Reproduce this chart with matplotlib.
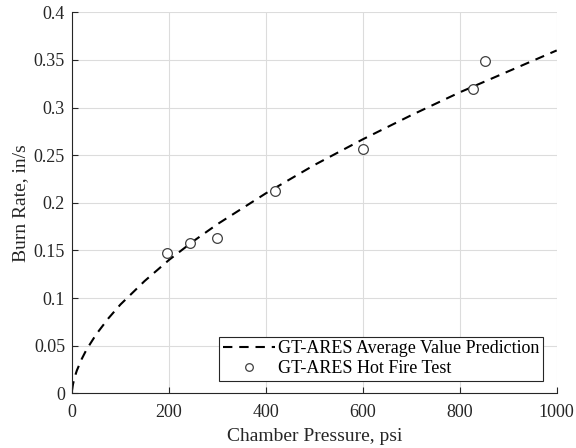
import matplotlib
matplotlib.use("Agg")
import matplotlib.pyplot as plt

# Prediction curve
pred_p = [0, 2, 5, 10, 20, 30, 50, 75, 100, 150, 200, 250, 300, 400, 500, 600, 700, 800, 900, 1000]
pred_r = [0.003, 0.0094, 0.016, 0.024, 0.036, 0.046, 0.062, 0.0787, 0.0933, 0.118, 0.140, 0.1596,
          0.1776, 0.210, 0.2397, 0.2667, 0.292, 0.316, 0.338, 0.360]

# Hot fire test points
test_p = [195, 243, 299, 418, 600, 828, 852]
test_r = [0.147, 0.158, 0.163, 0.212, 0.256, 0.319, 0.349]

xticks = [0, 200, 400, 600, 800, 1000]
yticks = [0, 0.05, 0.1, 0.15, 0.2, 0.25, 0.3, 0.35, 0.4]
ytick_labels = ["0", "0.05", "0.1", "0.15", "0.2", "0.25", "0.3", "0.35", "0.4"]

plt.rcParams['font.family'] = ['Liberation Serif', 'DejaVu Serif']

fig = plt.figure(figsize=(5.76, 4.48), dpi=100)
ax = fig.add_axes([0.125, 0.122, 0.8415, 0.8505])

ax.plot(pred_p, pred_r, color='black', linestyle=(0, (4.5, 3.3)), linewidth=1.5,
        label='GT-ARES Average Value Prediction')
ax.plot(test_p, test_r, linestyle='none', marker='o', markersize=7,
        markerfacecolor='white', markeredgecolor='#404040', markeredgewidth=0.9,
        label='GT-ARES Hot Fire Test')

ax.set_xlim(0, 1000)
ax.set_ylim(0, 0.4)
ax.set_xticks(xticks)
ax.set_yticks(yticks)
ax.set_yticklabels(ytick_labels)
ax.grid(True, color='#dcdcdc', linewidth=0.8)
ax.set_axisbelow(True)
ax.spines['top'].set_visible(False)
ax.spines['right'].set_visible(False)
ax.spines['left'].set_color('#262626')
ax.spines['bottom'].set_color('#262626')
ax.tick_params(direction='in', length=4, width=0.8, colors='#262626', labelsize=13,
               labelcolor='#262626')
ax.tick_params(axis='x', pad=8)
ax.tick_params(axis='y', pad=5)

ax.set_xlabel('Chamber Pressure, psi', fontsize=14, color='#262626', labelpad=5)
ax.set_ylabel('Burn Rate, in/s', fontsize=14, color='#262626', labelpad=3)

leg = ax.legend(loc='lower right', fontsize=13, frameon=True, fancybox=False,
                edgecolor='#262626', framealpha=1, borderpad=0.2, labelspacing=0.15,
                handlelength=2.9, handletextpad=0.15, borderaxespad=0.0,
                bbox_to_anchor=(0.972, 0.033))
leg.get_frame().set_linewidth(0.8)
leg.legend_handles[1].set_markersize(5.5)

fig.savefig('out.png', dpi=100)
